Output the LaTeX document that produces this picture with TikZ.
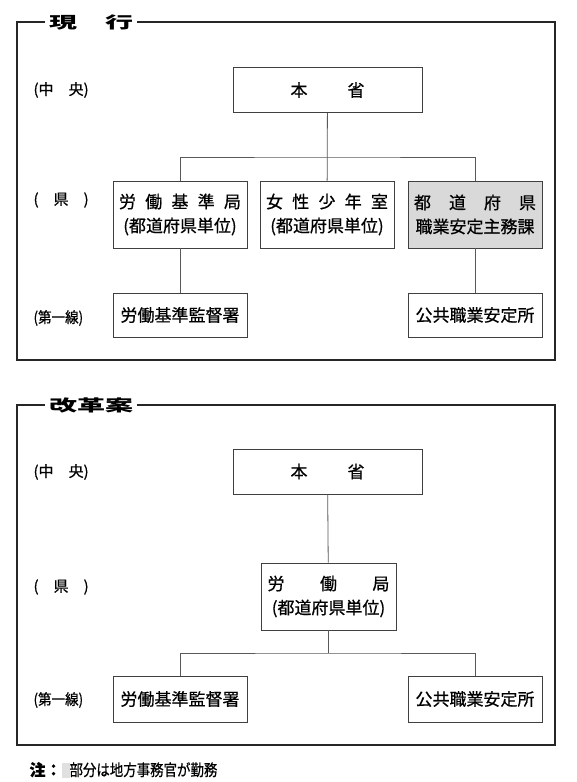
\documentclass[tikz,border=0pt]{standalone}
\usepackage{fontspec}
\setmainfont{Noto Sans CJK JP}
\newfontfamily\mediumface{Noto Sans CJK JP}[FakeBold=0.7]
\usepackage{graphicx}
\usetikzlibrary{positioning}

\newcommand{\boxfont}{\mediumface\fontsize{17}{24}\selectfont}
\newcommand{\levelfont}{\mediumface\fontsize{15}{16}\selectfont}
\newcommand{\titlefont}{\fontsize{16}{16}\selectfont\bfseries}
\newcommand{\spaced}[2]{\makebox[#1pt]{#2}}

\begin{document}
\begin{tikzpicture}[x=1pt,y=-1pt,
  every node/.style={font=\boxfont},
  box/.style={rectangle,draw=black!75,line width=0.9pt,minimum width=134pt,inner sep=0pt,align=center},
  tall/.style={box,minimum height=67pt},
  flat/.style={box,minimum height=45pt},
  shaded/.style={fill=black!15},
  frame/.style={draw=black!85,line width=1.1pt},
  title/.style={fill=white,inner xsep=4pt,inner ysep=1pt,font=\titlefont},
  level/.style={anchor=west,font=\levelfont},
  link/.style={draw=black!65,line width=0.8pt},
]
\useasboundingbox (0,0) rectangle (577,782);

% Current organisation
\draw[frame] (17,22) rectangle (555,360);
\node[title] (now) at (91,22) {\scalebox{1.75}[1]{現　行}};

\node[level] (chuo1) at (30,90) {(中　央)};
\node[level] (ken1) at (30,200) {(　県　)};
\node[level] (daiichi1) at (30,318) {\scalebox{0.9}[1]{(第一線)}};

\node[flat,minimum width=189pt] (honsho1) at (327.5,90) {\spaced{74}{本\hfill 省}};
\node[tall] (kijun1) at (180,214.5) {\spaced{122}{労\hfill 働\hfill 基\hfill 準\hfill 局}\\(都道府県単位)};
\node[tall] (shonen1) at (327,214.5) {\spaced{122}{女\hfill 性\hfill 少\hfill 年\hfill 室}\\(都道府県単位)};
\node[tall,shaded] (anteika1) at (475,214.5) {\spaced{122}{都\hfill 道\hfill 府\hfill 県}\\職業安定主務課};
\node[flat,minimum height=44pt] (kantoku1) at (180,315) {労働基準監督署};
\node[flat,minimum height=44pt] (antei1) at (475,315) {公共職業安定所};

\coordinate (bus1) at (327,157);
\draw[link] (honsho1) -- (shonen1);
\draw[link] (kijun1.north) |- (bus1) -| (anteika1.north);
\draw[link] (kijun1) -- (kantoku1);
\draw[link] (anteika1) -- (antei1);

% Reform plan
\draw[frame] (17,405) rectangle (555,745);
\node[title] (plan) at (91,405) {\scalebox{1.75}[1]{改革案}};

\node[level] (chuo2) at (30,472) {(中　央)};
\node[level] (ken2) at (30,587) {(　県　)};
\node[level] (daiichi2) at (30,700) {\scalebox{0.9}[1]{(第一線)}};

\node[flat,minimum width=189pt] (honsho2) at (327.5,471.5) {\spaced{74}{本\hfill 省}};
\node[tall,minimum width=135pt] (kyoku2) at (328.5,596.5) {\spaced{122}{労\hfill 働\hfill 局}\\(都道府県単位)};
\node[flat,minimum height=46pt] (kantoku2) at (180,699) {労働基準監督署};
\node[flat,minimum height=46pt] (antei2) at (475,699) {公共職業安定所};

\coordinate (bus2) at (328.5,653);
\draw[link] (honsho2) -- (kyoku2);
\draw[link] (kyoku2.south) -- (bus2);
\draw[link] (kantoku2.north) |- (bus2) -| (antei2.north);

% Note
\node[anchor=west,font=\mediumface\fontsize{16}{16}\selectfont] (note) at (26,770)
  {{\bfseries 注：}\textcolor{black!12}{\rule[-2pt]{8pt}{15pt}}\scalebox{0.84}[1]{部分は地方事務官が勤務}};
\end{tikzpicture}
\end{document}
